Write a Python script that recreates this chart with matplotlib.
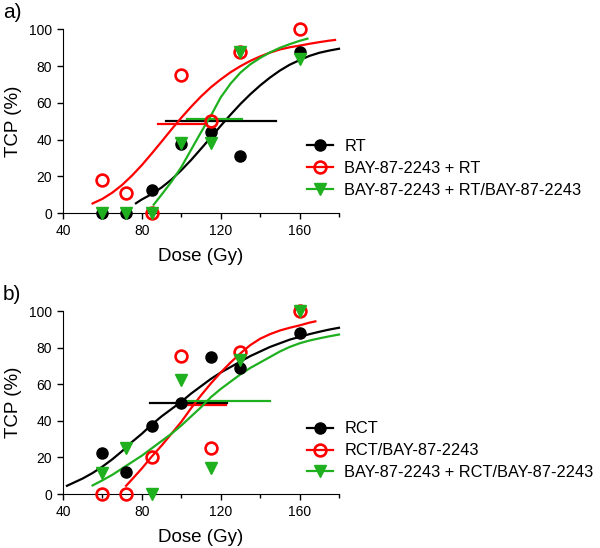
import matplotlib
matplotlib.use("Agg")
import matplotlib.pyplot as plt
from matplotlib.ticker import MultipleLocator

plt.rcParams['font.family'] = ['Liberation Sans', 'DejaVu Sans']

BLACK = 'black'
RED = '#ff0000'
GREEN = '#1fb01f'

# measured points (dose in Gy, TCP in %)
dose = [60, 72, 85, 100, 115, 130, 160]

a_rt = [0, 0, 12.5, 37.5, 44, 31, 88]
a_bay_rt = [18, 11, 0, 75, 50, 87.5, 100]
a_bay_rt_bay = [0, 0, 0, 38, 38, 88, 84]

b_rct = [22.3, 12.2, 37.4, 49.6, 75.2, 68.8, 88]
b_rct_bay = [0, 0, 20, 75.5, 25, 78, 100]
b_bay_rct_bay = [11.5, 25.4, 0, 62.4, 14, 73.3, 100]

# fitted dose-response curves
a_rt_fit_x = [77, 80, 85, 90, 95, 100, 105, 110, 115, 120, 125, 130, 135, 140,
              145, 150, 155, 160, 165, 170, 175, 180]
a_rt_fit_y = [5.3, 7.4, 10.3, 13.9, 18.2, 23.3, 28.9, 35, 41.2, 47.5, 53.6, 59.4,
              64.7, 69.5, 73.8, 77.6, 80.8, 83.3, 85.6, 87.3, 88.5, 89.5]

a_bay_rt_fit_x = [55, 60, 65, 70, 75, 80, 85, 90, 95, 100, 105, 110, 115, 120,
                  125, 130, 135, 140, 145, 150, 155, 160, 165, 170, 175, 178]
a_bay_rt_fit_y = [5.2, 7.7, 11.1, 15.3, 20.4, 26.1, 32.4, 38.9, 45.5, 51.9, 57.9,
                  63.5, 68.5, 72.8, 76.7, 80, 82.9, 85.3, 87.4, 89.1, 90.3, 91.2,
                  92.2, 93.1, 93.9, 94.3]

a_bay_rt_bay_fit_x = [86, 90, 95, 100, 105, 110, 115, 120, 125, 130, 135, 140,
                      145, 150, 155, 160, 164]
a_bay_rt_bay_fit_y = [4.5, 10, 17, 25, 34.5, 44, 53, 63, 70.5, 76.5, 81, 84.5,
                      87.5, 90, 92, 93.8, 95]

b_rct_fit_x = [42, 45, 50, 55, 60, 65, 70, 75, 80, 85, 90, 95, 100, 105, 110,
               115, 120, 125, 130, 135, 140, 145, 150, 155, 160, 165, 170, 175, 180]
b_rct_fit_y = [4.5, 6, 8.5, 11.5, 15, 19, 23.5, 28.5, 33, 38, 42.5, 46.5, 50.5,
               55, 59, 63, 66.5, 69.5, 72.5, 75.5, 78, 80.5, 82.5, 84.5, 86, 87.5,
               88.8, 90, 91]

b_rct_bay_fit_x = [72, 75, 80, 85, 90, 95, 100, 105, 110, 115, 120, 125, 130,
                   135, 140, 145, 150, 155, 160, 165, 168]
b_rct_bay_fit_y = [4.5, 8, 14, 20.5, 26.5, 33, 39.5, 47, 54, 60.5, 66.5, 72, 77,
                   81.5, 85, 87.5, 89.5, 91, 92.3, 93.8, 94.5]

b_bay_rct_bay_fit_x = [55, 60, 65, 70, 75, 80, 85, 90, 95, 100, 105, 110, 115,
                       120, 125, 130, 135, 140, 145, 150, 155, 160, 165, 170, 175, 180]
b_bay_rct_bay_fit_y = [4.7, 7.5, 10.5, 14, 17.5, 21, 25, 29, 33, 37.5, 42.5, 47.5,
                       53, 57.5, 61.5, 65.5, 69, 72, 75, 78, 80.5, 82.5, 84, 85.2,
                       86.3, 87.3]

# TCD50 with confidence interval: [low, high], level
a_rt_ci = [92, 148]
a_bay_rt_ci = [88, 113]
a_bay_rt_bay_ci = [103, 131]
a_ci_level = [50, 48.5, 51]

b_rct_ci = [84, 123]
b_rct_bay_ci = [99, 122.5]
b_bay_rct_bay_ci = [99, 145]
b_ci_level = [50, 48.5, 51]

labels_a = ['RT', 'BAY-87-2243 + RT', 'BAY-87-2243 + RT/BAY-87-2243']
labels_b = ['RCT', 'RCT/BAY-87-2243', 'BAY-87-2243 + RCT/BAY-87-2243']

fig = plt.figure(figsize=(6, 5.48), dpi=100)
ax_a = fig.add_axes([0.105, 0.6113, 0.46, 0.3349])
ax_b = fig.add_axes([0.105, 0.0985, 0.46, 0.3334])


def draw_panel(ax, pts, fits, cis, levels, labels, leg_top):
    colors = [BLACK, RED, GREEN]
    styles = [dict(marker='o', ms=8, mfc=BLACK, mec=BLACK),
              dict(marker='o', ms=8.5, mfc='none', mec=RED, mew=1.9),
              dict(marker='v', ms=8.5, mfc=GREEN, mec=GREEN)]
    handles = []
    for y, (fx, fy), ci, lev, c, st, lab in zip(pts, fits, cis, levels, colors, styles, labels):
        ax.plot(fx, fy, color=c, lw=1.6, clip_on=False)
        ax.plot(ci, [lev, lev], color=c, lw=1.6, clip_on=False)
        ax.plot(dose, y, ls='none', clip_on=False, zorder=3, **st)
        handles.append(plt.Line2D([], [], color=c, lw=1.6, **st))
    ax.set_xlim(40, 180)
    ax.set_ylim(0, 100)
    ax.spines['top'].set_visible(False)
    ax.spines['right'].set_visible(False)
    ax.xaxis.set_major_locator(MultipleLocator(40))
    ax.xaxis.set_minor_locator(MultipleLocator(20))
    ax.yaxis.set_major_locator(MultipleLocator(20))
    ax.tick_params(which='major', length=4.5, width=1, labelsize=10)
    ax.tick_params(which='minor', length=3, width=1)
    ax.set_xlabel('Dose (Gy)', fontsize=13.5, labelpad=7)
    ax.set_ylabel('TCP (%)', fontsize=13.5, labelpad=5)
    ax.legend(handles, labels, loc='upper left', bbox_to_anchor=(0.512, leg_top),
              bbox_transform=fig.transFigure, frameon=False, fontsize=11.8,
              handlelength=1.55, handletextpad=0.72, labelspacing=0.42,
              borderpad=0, borderaxespad=0, numpoints=1)


draw_panel(ax_a, [a_rt, a_bay_rt, a_bay_rt_bay],
           [(a_rt_fit_x, a_rt_fit_y), (a_bay_rt_fit_x, a_bay_rt_fit_y),
            (a_bay_rt_bay_fit_x, a_bay_rt_bay_fit_y)],
           [a_rt_ci, a_bay_rt_ci, a_bay_rt_bay_ci], a_ci_level, labels_a, 0.746)
draw_panel(ax_b, [b_rct, b_rct_bay, b_bay_rct_bay],
           [(b_rct_fit_x, b_rct_fit_y), (b_rct_bay_fit_x, b_rct_bay_fit_y),
            (b_bay_rct_bay_fit_x, b_bay_rct_bay_fit_y)],
           [b_rct_ci, b_rct_bay_ci, b_bay_rct_bay_ci], b_ci_level, labels_b, 0.231)

fig.text(0.005, 1 - 18 / 548, 'a)', fontsize=15, va='baseline')
fig.text(0.005, 1 - 300 / 548, 'b)', fontsize=15, va='baseline')

fig.savefig('out.png', dpi=100)
